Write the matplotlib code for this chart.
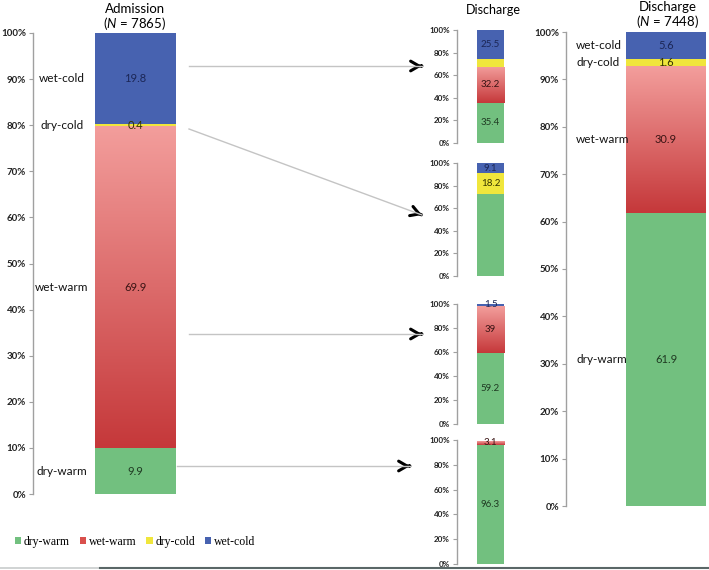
import numpy as np
import matplotlib
matplotlib.use("Agg")
import matplotlib.pyplot as plt
from matplotlib.colors import LinearSegmentedColormap
from matplotlib.patches import FancyArrowPatch
from matplotlib.lines import Line2D

plt.rcParams['font.family'] = ['Lato', 'DejaVu Sans']
plt.rcParams['mathtext.fontset'] = 'custom'
plt.rcParams['mathtext.it'] = 'Lato:italic'
plt.rcParams['mathtext.rm'] = 'Lato'

# categories, bottom to top
categories = ["dry-warm", "wet-warm", "dry-cold", "wet-cold"]
colors = ["#72c07f", "#d9504c", "#f0e63c", "#4762b0"]
text_colors = ["#1f3a22", "#3a1414", "#333300", "#1b2656"]

# admission (N = 7865)
admission = [9.9, 69.9, 0.4, 19.8]
admission_labels = ["9.9", "69.9", "0.4", "19.8"]

# discharge broken down by admission profile (wet-cold, dry-cold, wet-warm, dry-warm)
dis_from_wetcold = [35.4, 32.2, 6.9, 25.5]
dis_from_wetcold_labels = ["35.4", "32.2", "", "25.5"]
dis_from_drycold = [72.7, 0.0, 18.2, 9.1]
dis_from_drycold_labels = ["", "", "18.2", "9.1"]
dis_from_wetwarm = [59.2, 39.0, 0.3, 1.5]
dis_from_wetwarm_labels = ["59.2", "39", "", "1.5"]
dis_from_drywarm = [96.3, 3.1, 0.0, 0.0]
dis_from_drywarm_labels = ["96.3", "3.1", "", ""]

# discharge total (N = 7448)
discharge = [61.9, 30.9, 1.6, 5.6]
discharge_labels = ["61.9", "30.9", "1.6", "5.6"]

W, H = 709, 570
fig = plt.figure(figsize=(W / 100, H / 100), dpi=100)


def fx(x):
    return x / W


def fy(y):
    return 1 - y / H


def px_axes(left, top, right, bottom):
    return fig.add_axes([fx(left), fy(bottom), (right - left) / W, (bottom - top) / H])


red_cmap = LinearSegmentedColormap.from_list("redgrad", ["#c5383a", "#f39e9c"])


def draw_stack(ax, values, labels, bar_left, bar_w, tick_step, tick_fs, val_fs, cat_labels=None, cat_x=0.0, cat_ha="center"):
    bottom = 0.0
    handles = []
    for i, v in enumerate(values):
        b = ax.bar(bar_left, v, bar_w, bottom=bottom, align="edge", color=colors[i],
                   edgecolor="none", label=categories[i])
        handles.append(b)
        if i == 1 and v > 0:
            rect = b.patches[0]
            grad = np.linspace(0, 1, 256).reshape(-1, 1)
            im = ax.imshow(grad, cmap=red_cmap, origin="lower", aspect="auto",
                           extent=(bar_left, bar_left + bar_w, bottom, bottom + v), zorder=2)
            im.set_clip_path(rect)
        if labels[i]:
            ax.text(bar_left + bar_w / 2, bottom + v / 2, labels[i], ha="center", va="center",
                    fontsize=val_fs, color=text_colors[i], zorder=5)
        if cat_labels is not None:
            ax.text(cat_x, bottom + v / 2, cat_labels[i], ha=cat_ha, va="center",
                    fontsize=8.5, color="#111111")
        bottom += v
    ax.set_xlim(0, 1)
    ax.set_ylim(0, 100)
    ticks = np.arange(0, 101, tick_step)
    ax.set_yticks(ticks)
    ax.set_yticklabels([f"{t}%" for t in ticks], fontsize=tick_fs, color="#222222",
                       fontweight="bold")
    ax.set_xticks([])
    for s in ["top", "right", "bottom"]:
        ax.spines[s].set_visible(False)
    ax.spines["left"].set_color("#a0a0a0")
    ax.spines["left"].set_linewidth(1.0)
    ax.tick_params(axis="y", length=3, width=0.8, color="#a0a0a0", pad=2)
    ax.patch.set_alpha(0)
    return handles


# admission
ax_adm = px_axes(33, 33, 238, 494)
handles = draw_stack(ax_adm, admission, admission_labels, 0.302, 0.395, 10, 7, 8,
                     cat_labels=categories, cat_x=0.14, cat_ha="center")
fig.text(fx(135), fy(9), "Admission", ha="center", va="center", fontsize=9.5)
fig.text(fx(135), fy(23), r"($\it{N}$ = 7865)", ha="center", va="center", fontsize=9.5)

# small discharge panels
small_sets = [
    (dis_from_wetcold, dis_from_wetcold_labels, 30, 143),
    (dis_from_drycold, dis_from_drycold_labels, 163, 276),
    (dis_from_wetwarm, dis_from_wetwarm_labels, 304, 424),
    (dis_from_drywarm, dis_from_drywarm_labels, 440, 564),
]
for vals, labs, top, bot in small_sets:
    ax_s = px_axes(457, top, 524, bot)
    draw_stack(ax_s, vals, labs, 0.2985, 0.403, 20, 5.8, 7)
fig.text(fx(493), fy(10), "Discharge", ha="center", va="center", fontsize=9)

# discharge total
ax_dis = px_axes(566, 32, 709, 506)
draw_stack(ax_dis, discharge, discharge_labels, 0.42, 0.559, 10, 7, 8,
           cat_labels=categories, cat_x=0.07, cat_ha="left")
fig.text(fx(668), fy(7), "Discharge", ha="center", va="center", fontsize=9.5)
fig.text(fx(668), fy(21), r"($\it{N}$ = 7448)", ha="center", va="center", fontsize=9.5)

# arrows from admission bar to discharge panels
arrows = [((189, 66), (422, 66)), ((189, 129), (422, 215)),
          ((189, 334), (422, 334)), ((177, 466), (410, 466))]
for (x0, y0), (x1, y1) in arrows:
    fig.add_artist(Line2D([fx(x0), fx(x1)], [fy(y0), fy(y1)], color="#c4c4c4", lw=1.0,
                          transform=fig.transFigure))
    d = np.array([x1 - x0, y1 - y0], dtype=float)
    d /= np.hypot(*d)
    xa, ya = x1 - d[0] * 0.5, y1 - d[1] * 0.5
    fig.add_artist(FancyArrowPatch((fx(xa), fy(ya)), (fx(x1), fy(y1)), transform=fig.transFigure,
                                   arrowstyle="->,head_length=6,head_width=3.5", color="black",
                                   lw=2.2, shrinkA=0, shrinkB=0, mutation_scale=1))

# legend
fig.legend(handles=handles, loc="center left", bbox_to_anchor=(fx(4), fy(542)), ncol=4,
           frameon=False, handlelength=0.55, handleheight=0.55, handletextpad=0.25,
           columnspacing=0.8, prop={"family": "Liberation Serif", "size": 8.5})

# bottom rule
fig.add_artist(Line2D([0, fx(100)], [fy(568), fy(568)], color="#c8cccc", lw=1.2, transform=fig.transFigure))
fig.add_artist(Line2D([fx(100), 1], [fy(568), fy(568)], color="#5a6767", lw=1.5, transform=fig.transFigure))

fig.savefig("out.png", dpi=100)
